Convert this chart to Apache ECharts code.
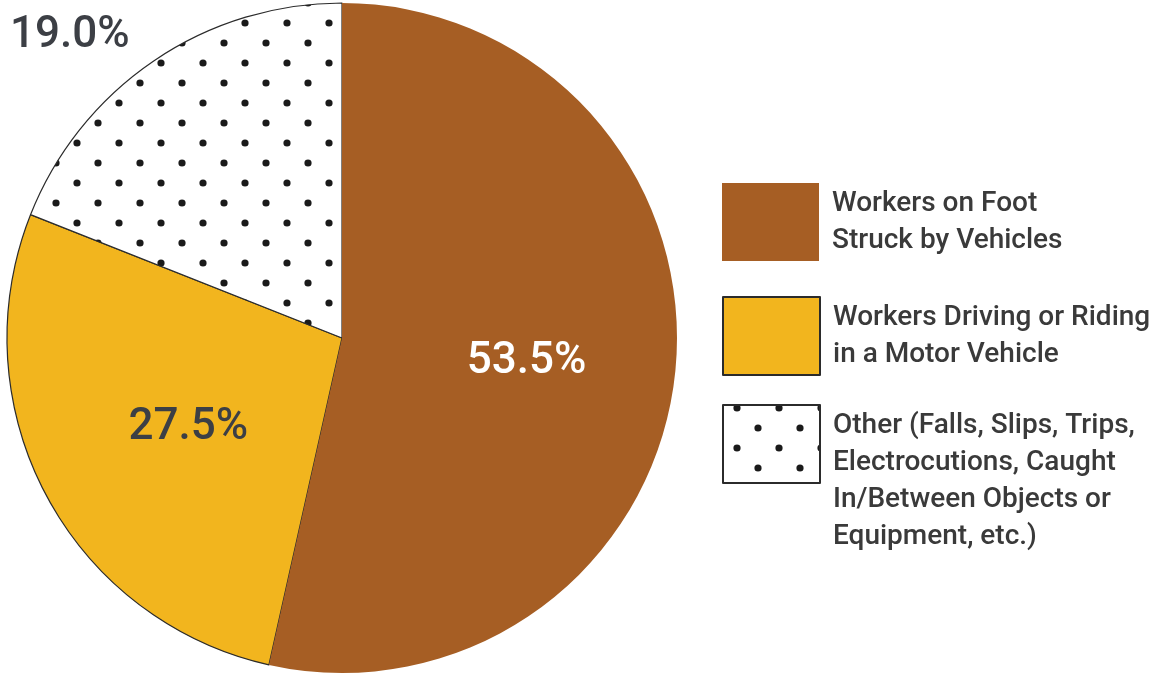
<!DOCTYPE html>
<html>
<head>
<meta charset="utf-8">
<script src="https://cdn.jsdelivr.net/npm/echarts@6/dist/echarts.min.js"></script>
<style>
html,body{margin:0;padding:0;background:#fff;}
#chart{width:1151px;height:676px;}
</style>
</head>
<body>
<div id="chart"></div>
<script>
// ---- data ----
const categories = [
  'Workers on Foot Struck by Vehicles',
  'Workers Driving or Riding in a Motor Vehicle',
  'Other (Falls, Slips, Trips, Electrocutions, Caught In/Between Objects or Equipment, etc.)'
];
const values = [53.5, 27.5, 19.0];
const labelTexts = ['53.5%', '27.5%', '19.0%'];
const legendLines = [
  ['Workers on Foot', 'Struck by Vehicles'],
  ['Workers Driving or Riding', 'in a Motor Vehicle'],
  ['Other (Falls, Slips, Trips,', 'Electrocutions, Caught', 'In/Between Objects or', 'Equipment, etc.)']
];

const FONT = 'Roboto, "Liberation Sans", sans-serif';

// dotted pattern tile
function makeDots() {
  const c = document.createElement('canvas');
  c.width = 42; c.height = 40;
  const ctx = c.getContext('2d');
  ctx.fillStyle = '#ffffff';
  ctx.fillRect(0, 0, 42, 40);
  ctx.fillStyle = '#1a1a1a';
  const pts = [[35, 23], [14, 3]];
  pts.forEach(p => {
    for (let ox = -42; ox <= 42; ox += 42) {
      for (let oy = -40; oy <= 40; oy += 40) {
        ctx.beginPath();
        ctx.arc(p[0] + ox, p[1] + oy, 3.6, 0, Math.PI * 2);
        ctx.fill();
      }
    }
  });
  return c;
}
const dotPattern = { image: makeDots(), repeat: 'repeat' };

const fills = ['#A65E24', '#F2B51E', dotPattern];
const borders = [0, 1.2, 1.2];
const labelColors = ['#ffffff', '#3c3f45', '#3c3f45'];
const labelPositions = ['inside', 'inside', 'outside'];
const labelPads = [[0, 0, 0, 30], [0, 6, 0, 0], [0, 0, 0, 0]];
const labelDown = [10, 20, 6];   // spacer height (shifts text down by half)

// draw order: yellow, other, brown (brown on top so its edges have no outline)
const order = [1, 2, 0];
const startAngle = 90 - values[0] / 100 * 360;

const data = order.map(i => ({
  name: categories[i],
  value: values[i],
  itemStyle: { color: fills[i], borderColor: '#2b2b2b', borderWidth: borders[i] },
  label: {
    show: true,
    position: labelPositions[i],
    formatter: '{s| }\n{v|' + labelTexts[i] + '}',
    padding: labelPads[i],
    rich: {
      s: { fontSize: 2, lineHeight: labelDown[i] },
      v: { fontFamily: FONT, fontSize: 44, fontWeight: 500, lineHeight: 50, color: labelColors[i] }
    }
  },
  labelLine: { show: false, length: 34, length2: 0 }
}));

const legendTops = [183, 296, 333];
const legends = categories.map((name, i) => ({
  data: [name],
  orient: 'vertical',
  left: 722,
  top: legendTops[i],
  padding: 0,
  itemWidth: 97,
  itemHeight: 78,
  itemGap: 0,
  icon: 'rect',
  selectedMode: false,
  formatter: () => (i === 2 ? '\n\n' : '') + legendLines[i].join('\n'),
  textStyle: {
    fontFamily: FONT,
    fontSize: 28,
    fontWeight: 500,
    lineHeight: 37,
    color: '#3a3a3a',
    padding: [0, 0, 0, 8]
  }
}));

const chart = echarts.init(document.getElementById('chart'), null, { renderer: 'canvas' });
chart.setOption({
  backgroundColor: '#ffffff',
  animation: false,
  legend: legends,
  series: [{
    type: 'pie',
    center: [342, 338],
    radius: [0, 335],
    startAngle: startAngle,
    clockwise: true,
    avoidLabelOverlap: false,
    silent: true,
    emphasis: { disabled: true },
    data: data
  }]
});
</script>
</body>
</html>
